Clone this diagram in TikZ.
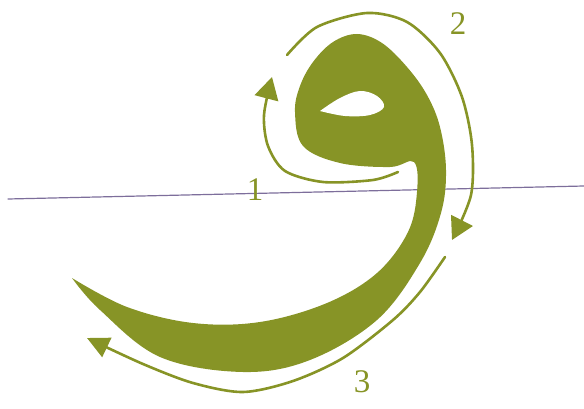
\documentclass[tikz,border=0pt]{standalone}
\usepackage{fontspec}
\setmainfont{Liberation Serif}
\usetikzlibrary{arrows.meta}
\definecolor{wawgreen}{RGB}{135,148,38}
\definecolor{linepurple}{RGB}{125,110,155}

\begin{document}
\begin{tikzpicture}[x=1pt, y=-1pt, line join=round, line cap=round,
  stroke/.style={draw=wawgreen, line width=2.6pt, -{Triangle[width=24pt,length=22pt]}},
  numlabel/.style={text=wawgreen, font=\fontsize{33}{33}\selectfont, inner sep=0pt}]
  \useasboundingbox (0,0) rectangle (584,409);
  % writing line
  \draw[linepurple, line width=1.2pt] (8,199) -- (584,186);
  % the letter waw
  \fill[wawgreen] plot[smooth, tension=0.6] coordinates {
    (72,278) (127,307) (193,323) (260,322) (327,303) (377,273) (408,232)
    (417,192) (414,162) (390,167) (340,163) (303,146) (295,112) (300,86)
    (313,62) (333,42) (357,34) (382,43) (407,67) (427,95) (440,127)
    (446,170) (441,213) (420,263) (377,320) (310,360) (243,372) (160,357)
    (100,310) (72,278)};
  % the loop of the head
  \fill[white] plot[smooth, tension=0.6] coordinates {
    (320,111) (340,98) (360,91) (377,96) (384,107) (370,115) (345,116) (320,111)};
  % stroke 1: the head
  \draw[stroke] plot[smooth] coordinates {
    (398,172) (373,180) (323,182) (285,171) (268,146) (264,115) (272,77)};
  % stroke 2: over the head and down
  \draw[stroke] plot[smooth] coordinates {
    (287,55) (317,27) (367,13) (407,22) (440,53) (462,97) (472,145) (471,195) (452,240)};
  % stroke 3: the tail
  \draw[stroke, -{Triangle[width=21pt,length=22pt]}] plot[smooth] coordinates {
    (445,257) (420,292) (393,320) (343,358) (293,381) (243,392) (193,383) (143,364) (87,338)};
  % stroke numbers
  \node[numlabel] (lbl1) at (255,190) {1};
  \node[numlabel] (lbl2) at (458,24) {2};
  \node[numlabel] (lbl3) at (362,382) {3};
\end{tikzpicture}
\end{document}
